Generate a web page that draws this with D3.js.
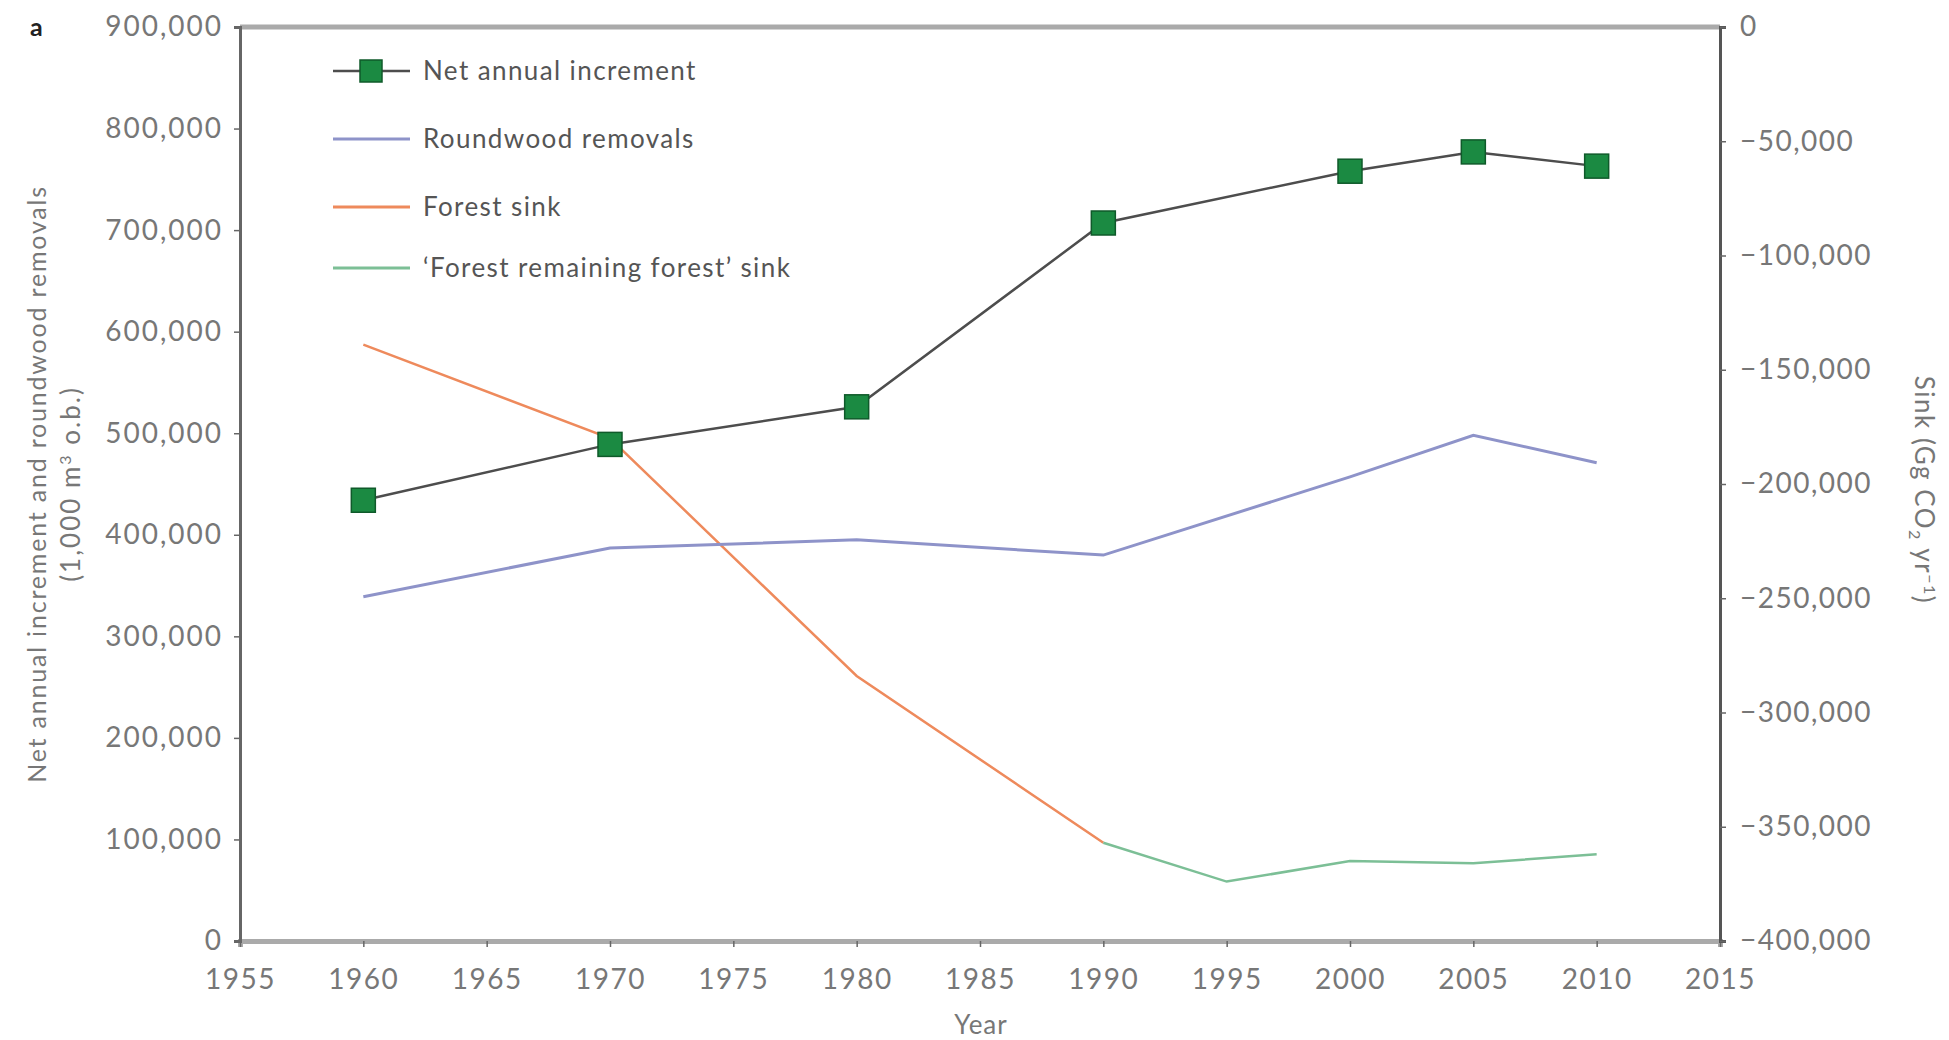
<!DOCTYPE html>
<html>
<head>
<meta charset="utf-8">
<script src="https://cdn.jsdelivr.net/npm/d3@7"></script>
<style>
  html, body { margin: 0; padding: 0; background: #fff; }
  svg { display: block; }
  text { font-family: Lato, "Open Sans", sans-serif; }
</style>
</head>
<body>
<svg id="chart" width="1949" height="1040"></svg>
<script>
// ---- Data ----
const netYears = [1960, 1970, 1980, 1990, 2000, 2005, 2010];
const netIncrement = [434000, 489000, 526000, 707000, 758000, 777000, 763000];

const roundYears = [1960, 1970, 1980, 1990, 2000, 2005, 2010];
const roundwoodRemovals = [339000, 387000, 395000, 380000, 457000, 498000, 471000];

const sinkYears = [1960, 1970, 1980, 1990];
const forestSink = [-139000, -180000, -284000, -357000];

const remainYears = [1990, 1995, 2000, 2005, 2010];
const remainingSink = [-357000, -374000, -365000, -366000, -362000];

const xTicks = [1955, 1960, 1965, 1970, 1975, 1980, 1985, 1990, 1995, 2000, 2005, 2010, 2015];
const leftTicks = [0, 100000, 200000, 300000, 400000, 500000, 600000, 700000, 800000, 900000];
const rightTicks = [0, -50000, -100000, -150000, -200000, -250000, -300000, -350000, -400000];

const legendLabels = ["Net annual increment", "Roundwood removals", "Forest sink", "\u2018Forest remaining forest\u2019 sink"];

// ---- Layout ----
const L = 240, R = 1720, T = 27, B = 941;
const svg = d3.select("#chart");

const x = d3.scaleLinear().domain([1955, 2015]).range([L, R]);
const yL = d3.scaleLinear().domain([0, 900000]).range([B, T]);
const yR = d3.scaleLinear().domain([-400000, 0]).range([B, T]);

const tickColor = "#777";
const fmt = d3.format(",");

// top frame line
svg.append("line").attr("x1", L).attr("x2", R).attr("y1", T).attr("y2", T)
  .attr("stroke", "#aaa").attr("stroke-width", 5);

// bottom axis
const gx = svg.append("g").attr("transform", `translate(0,${B})`)
  .call(d3.axisBottom(x).tickValues(xTicks).tickFormat(d3.format("d")).tickSize(6).tickPadding(22));
gx.select(".domain").attr("stroke", "#aaa").attr("stroke-width", 5);
gx.selectAll(".tick line").attr("stroke", "#666").attr("stroke-width", 1.5);
gx.selectAll("text").attr("fill", tickColor).attr("font-size", 28).attr("letter-spacing", "1.5px");

// left axis
const gl = svg.append("g").attr("transform", `translate(${L},0)`)
  .call(d3.axisLeft(yL).tickValues(leftTicks).tickFormat(fmt).tickSize(6).tickPadding(11));
gl.select(".domain").attr("stroke", "#666").attr("stroke-width", 3);
gl.selectAll(".tick line").attr("stroke", "#666").attr("stroke-width", 1.5);
gl.selectAll("text").attr("fill", tickColor).attr("font-size", 28).attr("letter-spacing", "2px");

// right axis
const gr = svg.append("g").attr("transform", `translate(${R},0)`)
  .call(d3.axisRight(yR).tickValues(rightTicks).tickFormat(fmt).tickSize(6).tickPadding(14));
gr.select(".domain").attr("stroke", "#555").attr("stroke-width", 3);
gr.selectAll(".tick line").attr("stroke", "#666").attr("stroke-width", 1.5);
gr.selectAll("text").attr("fill", tickColor).attr("font-size", 28).attr("letter-spacing", "1.5px");

// axis titles
svg.append("text").attr("x", 981).attr("y", 1034).attr("text-anchor", "middle")
  .attr("font-size", 26).attr("letter-spacing", "1px").attr("fill", tickColor).text("Year");

const lt = svg.append("text").attr("transform", `translate(37,${(T + B) / 2}) rotate(-90)`)
  .attr("text-anchor", "middle").attr("font-size", 25).attr("letter-spacing", "1.8px").attr("fill", tickColor);
lt.append("tspan").attr("x", 0).attr("dy", "0.35em").text("Net annual increment and roundwood removals");
const lt2 = svg.append("text").attr("transform", `translate(71,${(T + B) / 2}) rotate(-90)`)
  .attr("text-anchor", "middle").attr("font-size", 26).attr("letter-spacing", "2px").attr("fill", tickColor).attr("dy", "0.35em");
lt2.append("tspan").text("(1,000 m");
lt2.append("tspan").attr("font-size", 16).attr("dy", "-9").text("3");
lt2.append("tspan").attr("dy", "9").text(" o.b.)");

const rt = svg.append("text").attr("transform", `translate(1924,${(T + B) / 2 + 6}) rotate(90)`)
  .attr("text-anchor", "middle").attr("font-size", 26).attr("letter-spacing", "1.5px").attr("fill", tickColor).attr("dy", "0.35em");
rt.append("tspan").text("Sink (Gg CO");
rt.append("tspan").attr("font-size", 16).attr("dy", "6").text("2");
rt.append("tspan").attr("dy", "-6").text(" yr");
rt.append("tspan").attr("font-size", 16).attr("dy", "-9").text("\u22121");
rt.append("tspan").attr("dy", "9").text(")");

// panel label
svg.append("text").attr("x", 30).attr("y", 36).attr("font-size", 25)
  .attr("font-weight", "bold").attr("fill", "#222").text("a");

// ---- Series ----
const colNet = "#4d4d4d", colRound = "#8e93c9", colSink = "#ee8a5c", colRemain = "#7cbf96";
const markFill = "#1b8a42", markStroke = "#0f5a2a";

const lineL = d3.line().x(d => x(d[0])).y(d => yL(d[1]));
const lineR = d3.line().x(d => x(d[0])).y(d => yR(d[1]));

svg.append("path").datum(d3.zip(sinkYears, forestSink)).attr("d", lineR)
  .attr("fill", "none").attr("stroke", colSink).attr("stroke-width", 2.5);
svg.append("path").datum(d3.zip(remainYears, remainingSink)).attr("d", lineR)
  .attr("fill", "none").attr("stroke", colRemain).attr("stroke-width", 2.5);
svg.append("path").datum(d3.zip(roundYears, roundwoodRemovals)).attr("d", lineL)
  .attr("fill", "none").attr("stroke", colRound).attr("stroke-width", 3);
svg.append("path").datum(d3.zip(netYears, netIncrement)).attr("d", lineL)
  .attr("fill", "none").attr("stroke", colNet).attr("stroke-width", 2.5);

const ms = 24;
svg.selectAll("rect.mk").data(d3.zip(netYears, netIncrement)).join("rect")
  .attr("class", "mk")
  .attr("x", d => x(d[0]) - ms / 2).attr("y", d => yL(d[1]) - ms / 2)
  .attr("width", ms).attr("height", ms)
  .attr("fill", markFill).attr("stroke", markStroke).attr("stroke-width", 1.5);

// ---- Legend ----
const legY = [71, 139, 207, 268];
const legCols = [colNet, colRound, colSink, colRemain];
const lg = svg.append("g");
legendLabels.forEach((lab, i) => {
  lg.append("line").attr("x1", 333).attr("x2", 410).attr("y1", legY[i]).attr("y2", legY[i])
    .attr("stroke", legCols[i]).attr("stroke-width", i === 0 ? 2.5 : 3);
  if (i === 0) {
    lg.append("rect").attr("x", 371 - 11).attr("y", legY[i] - 11).attr("width", 22).attr("height", 22)
      .attr("fill", markFill).attr("stroke", markStroke).attr("stroke-width", 1.5);
  }
  lg.append("text").attr("x", 423).attr("y", legY[i]).attr("dy", "0.35em")
    .attr("font-size", 26).attr("letter-spacing", "1.4px").attr("fill", "#555").text(lab);
});
</script>
</body>
</html>
